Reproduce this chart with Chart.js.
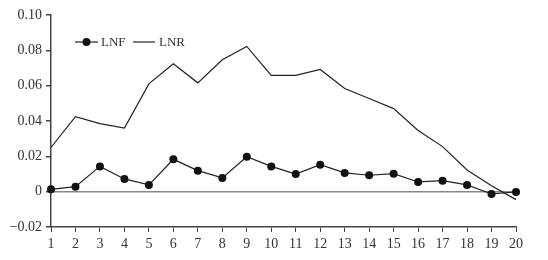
<!DOCTYPE html>
<html>
<head>
<meta charset="utf-8">
<script src="https://cdn.jsdelivr.net/npm/chart.js@4"></script>
<style>
  html, body { margin: 0; padding: 0; background: #fff; }
  #wrap { width: 548px; height: 260px; }
</style>
</head>
<body>
<div id="wrap"><canvas id="chart" width="548" height="260"></canvas></div>
<script>
const periods = ['1','2','3','4','5','6','7','8','9','10','11','12','13','14','15','16','17','18','19','20'];
const lnf = [0.0013, 0.0028, 0.0143, 0.0072, 0.0038, 0.0183, 0.0119, 0.0078, 0.0198, 0.0143,
             0.0100, 0.0153, 0.0106, 0.0093, 0.0102, 0.0055, 0.0062, 0.0038, -0.0013, -0.0002];
const lnr = [0.0250, 0.0425, 0.0385, 0.0360, 0.0610, 0.0724, 0.0616, 0.0747, 0.0822, 0.0658,
             0.0658, 0.0692, 0.0584, 0.0527, 0.0470, 0.0346, 0.0255, 0.0123, 0.0034, -0.0045];
const yTicks = [-0.02, 0, 0.02, 0.04, 0.06, 0.08, 0.10];

const font = { family: 'Liberation Serif', size: 14 };

// legend sits inside the plot, top-left
const insideLegend = {
  id: 'insideLegend',
  afterDraw(chart) {
    const c = chart.ctx;
    const y = 42;
    c.save();
    c.strokeStyle = '#222';
    c.lineWidth = 1.2;
    c.beginPath(); c.moveTo(75, y); c.lineTo(98, y); c.stroke();
    c.fillStyle = '#111';
    c.beginPath(); c.arc(86.5, y, 4, 0, Math.PI * 2); c.fill();
    c.beginPath(); c.moveTo(133, y); c.lineTo(155, y); c.stroke();
    c.font = '13px "Liberation Serif"';
    c.fillStyle = '#333';
    c.textBaseline = 'middle';
    c.fillText('LNF', 101, y + 1);
    c.fillText('LNR', 159, y + 1);
    c.restore();
  }
};

new Chart(document.getElementById('chart'), {
  type: 'line',
  data: {
    labels: periods,
    datasets: [
      {
        label: 'LNF',
        data: lnf,
        borderColor: '#222',
        borderWidth: 1.2,
        pointRadius: 4,
        pointBackgroundColor: '#111',
        pointBorderColor: '#111',
        pointBorderWidth: 0,
        tension: 0
      },
      {
        label: 'LNR',
        data: lnr,
        borderColor: '#222',
        borderWidth: 1.2,
        pointRadius: 0,
        tension: 0
      }
    ]
  },
  options: {
    responsive: false,
    animation: false,
    layout: { padding: { top: 15, right: 32, left: 0, bottom: 0 } },
    plugins: { legend: { display: false }, tooltip: { enabled: false } },
    scales: {
      x: {
        offset: false,
        border: { color: '#444', width: 1.5 },
        grid: { drawOnChartArea: false, drawTicks: true, tickLength: 5, tickColor: '#444' },
        ticks: { color: '#333', font: font, maxRotation: 0, autoSkip: false, padding: 4 },
        afterFit(s) { s.height = 33; }
      },
      y: {
        min: -0.02,
        max: 0.10,
        border: { color: '#444', width: 1.5 },
        grid: {
          drawOnChartArea: true,
          color: ctx => (ctx.tick && ctx.tick.value === 0 ? '#888' : 'rgba(0,0,0,0)'),
          lineWidth: 1.5,
          drawTicks: true,
          tickLength: 5,
          tickColor: '#444'
        },
        afterBuildTicks(s) { s.ticks = yTicks.map(v => ({ value: v })); },
        ticks: {
          color: '#333',
          font: font,
          padding: 4,
          callback: v => (Math.abs(v) < 1e-9 ? '0' : (v < 0 ? '\u2212' + Math.abs(v).toFixed(2) : v.toFixed(2)))
        },
        afterFit(s) { s.width = 51; }
      }
    }
  },
  plugins: [insideLegend]
});
</script>
</body>
</html>
